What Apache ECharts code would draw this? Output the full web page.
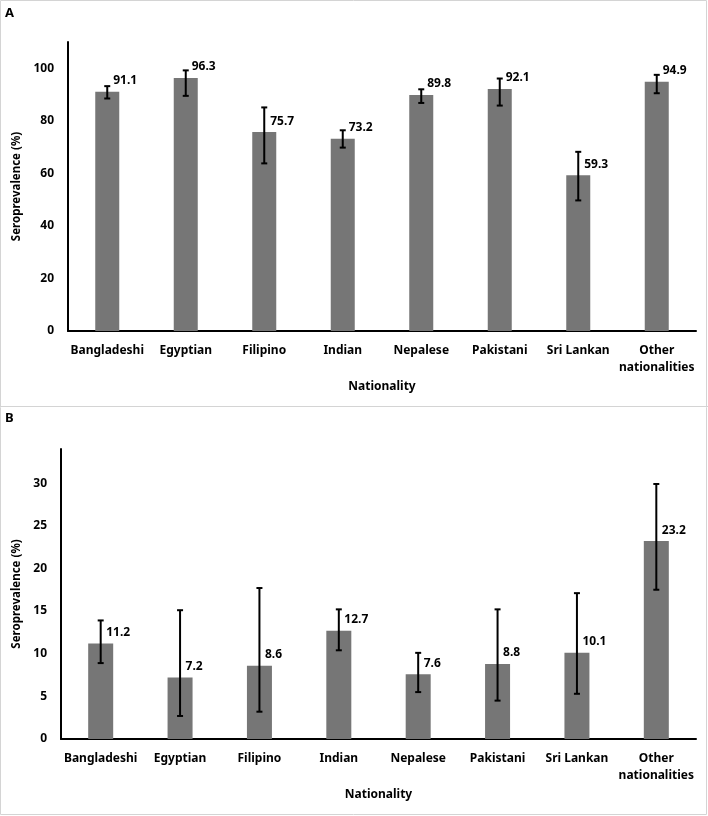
<!DOCTYPE html>
<html><head><meta charset="utf-8">
<script src="https://cdn.jsdelivr.net/npm/echarts@6/dist/echarts.min.js"></script>
<style>html,body{margin:0;padding:0;background:#fff}#c{width:708px;height:816px}</style>
</head><body><div id="c"></div>
<script>
const categories = ['Bangladeshi','Egyptian','Filipino','Indian','Nepalese','Pakistani','Sri Lankan','Other\nnationalities'];
const valuesA = [91.1, 96.3, 75.7, 73.2, 89.8, 92.1, 59.3, 94.9];
const lowA = [88.5, 89.5, 63.8, 69.8, 86.8, 85.8, 49.7, 90.5];
const highA = [93.2, 99.2, 85.1, 76.4, 92.0, 96.1, 68.2, 97.5];
const valuesB = [11.2, 7.2, 8.6, 12.7, 7.6, 8.8, 10.1, 23.2];
const lowB = [8.9, 2.7, 3.2, 10.4, 5.5, 4.5, 5.3, 17.5];
const highB = [13.9, 15.1, 17.7, 15.2, 10.1, 15.2, 17.1, 29.9];

const FONT = '"Noto Sans"';
const chart = echarts.init(document.getElementById('c'), null, {renderer:'canvas'});

function errItem(params, api) {
  const x = api.value(0);
  const lo = api.coord([x, api.value(1)]);
  const hi = api.coord([x, api.value(2)]);
  const w = 3;
  const st = {stroke:'#000', lineWidth:2};
  return {type:'group', children:[
    {type:'line', shape:{x1:lo[0], y1:lo[1], x2:hi[0], y2:hi[1]}, style:st},
    {type:'line', shape:{x1:lo[0]-w, y1:lo[1], x2:lo[0]+w, y2:lo[1]}, style:st},
    {type:'line', shape:{x1:hi[0]-w, y1:hi[1], x2:hi[0]+w, y2:hi[1]}, style:st}
  ]};
}

function xAxis(idx) {
  return {
    type:'category', gridIndex:idx, data:categories,
    name:'Nationality', nameLocation:'middle', nameGap:50,
    nameTextStyle:{fontFamily:FONT, fontWeight:'bold', fontSize:12, color:'#000'},
    axisLine:{lineStyle:{color:'#000', width:2}}, axisTick:{show:false},
    axisLabel:{fontFamily:FONT, fontWeight:'bold', fontSize:12, color:'#000', margin:11, interval:0, lineHeight:17}
  };
}
function yAxis(idx, max, interval, gap) {
  return {
    type:'value', gridIndex:idx, min:0, max:max, interval:interval,
    name:'Seroprevalence (%)', nameLocation:'middle', nameGap:gap,
    nameTextStyle:{fontFamily:FONT, fontWeight:'bold', fontSize:11.5, color:'#000'},
    axisLine:{show:true, lineStyle:{color:'#000', width:2}}, axisTick:{show:false},
    splitLine:{show:false},
    axisLabel:{fontFamily:FONT, fontWeight:'bold', fontSize:12, color:'#000', margin:14, showMaxLabel:false}
  };
}
const barLabel = {show:true, position:[18,-17], align:'left', verticalAlign:'top',
  fontFamily:FONT, fontWeight:'bold', fontSize:12, color:'#000'};

chart.setOption({
  animation:false,
  grid:[
    {left:68, right:12, top:42, bottom:485},
    {left:61, right:12, top:449, bottom:77}
  ],
  xAxis:[xAxis(0), xAxis(1)],
  yAxis:[yAxis(0,110,20,45), yAxis(1,34,5,38)],
  graphic:[
    {type:'rect', shape:{x:0.5,y:0.5,width:706,height:814}, style:{fill:'none', stroke:'#d4d4d4', lineWidth:1}, silent:true},
    {type:'line', shape:{x1:0,y1:406.5,x2:708,y2:406.5}, style:{stroke:'#d4d4d4', lineWidth:1}, silent:true},
    {type:'text', left:5, top:7, style:{text:'A', fontFamily:FONT, fontWeight:'bold', fontSize:13, fill:'#000'}},
    {type:'text', left:5, top:412, style:{text:'B', fontFamily:FONT, fontWeight:'bold', fontSize:13, fill:'#000'}}
  ],
  series:[
    {type:'bar', xAxisIndex:0, yAxisIndex:0, data:valuesA, barWidth:24, itemStyle:{color:'#767676'},
     label:Object.assign({}, barLabel, {formatter:p=>p.value.toFixed(1)})},
    {type:'custom', xAxisIndex:0, yAxisIndex:0, renderItem:errItem, z:10,
     data:categories.map((c,i)=>[i, lowA[i], highA[i]])},
    {type:'bar', xAxisIndex:1, yAxisIndex:1, data:valuesB, barWidth:25, itemStyle:{color:'#767676'},
     label:Object.assign({}, barLabel, {formatter:p=>p.value.toFixed(1)})},
    {type:'custom', xAxisIndex:1, yAxisIndex:1, renderItem:errItem, z:10,
     data:categories.map((c,i)=>[i, lowB[i], highB[i]])}
  ]
});
</script></body></html>
